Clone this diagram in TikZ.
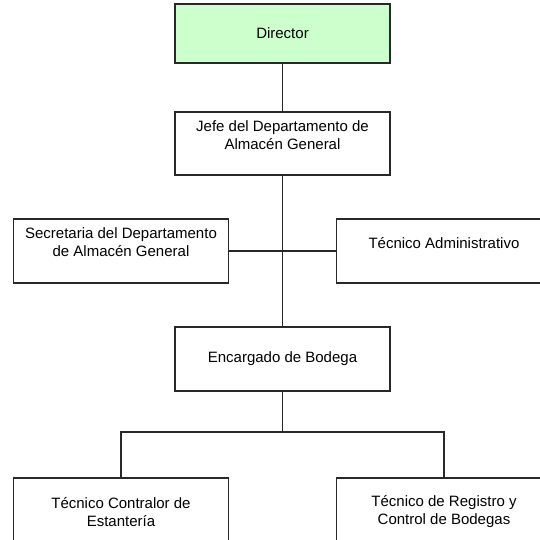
\documentclass[tikz,border=0pt]{standalone}
\usepackage{fontspec}
\setmainfont{Liberation Sans}
\usetikzlibrary{calc}
\definecolor{topfill}{RGB}{204,255,204}
\definecolor{edge}{RGB}{40,40,40}
\begin{document}
\begin{tikzpicture}[x=1pt,y=-1pt,
  orgbox/.style={draw=edge,line width=1.3pt,fill=white,minimum width=215pt,minimum height=63pt,inner sep=0pt,outer sep=0pt},
  lbl/.style={font=\fontsize{15}{18}\selectfont,align=center,inner sep=0pt},
  link/.style={draw=edge,line width=1.3pt}]
\useasboundingbox (0,0) rectangle (540,539);
\clip (0,0) rectangle (540,539);

% boxes
\node[orgbox,fill=topfill,minimum height=59pt] (dir) at (282.5,33.5) {};
\node[orgbox] (jefe) at (282.5,143.5) {};
\node[orgbox,minimum height=64pt] (sec) at (121,251) {};
\node[orgbox,minimum height=64pt] (adm) at (444,251) {};
\node[orgbox,minimum height=64pt] (enc) at (282.5,359) {};
\node[orgbox] (ctr) at (121,509.5) {};
\node[orgbox] (reg) at (444,509.5) {};

% connectors
\coordinate (mid) at (jefe.south |- sec.east);
\coordinate (fork) at ($(enc.south)+(0,41)$);
\draw[link] (dir.south) -- (jefe.north);
\draw[link] (jefe.south) -- (enc.north);
\draw[link] (sec.east) -- (mid);
\draw[link] (adm.west) -- (mid);
\draw[link] (enc.south) -- (fork);
\draw[link] (fork) -| (ctr.north);
\draw[link] (fork) -| (reg.north);

% labels
\node[lbl] at (282.5,33) {Director};
\node[lbl] at (282.5,135) {Jefe del Departamento de\\Almacén General};
\node[lbl] at (121,242.5) {Secretaria del Departamento\\de Almacén General};
\node[lbl] at (444,243) {Técnico Administrativo};
\node[lbl] at (282.5,359) {Encargado de Bodega};
\node[lbl] at (121,512) {Técnico Contralor de\\Estantería};
\node[lbl] at (444,512) {Técnico de Registro y\\Control de Bodegas};
\end{tikzpicture}
\end{document}
